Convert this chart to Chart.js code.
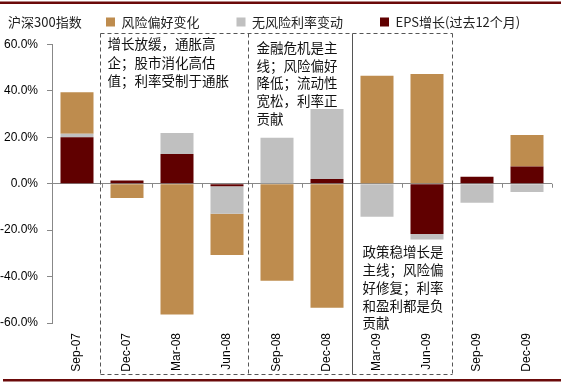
<!DOCTYPE html>
<html><head><meta charset="utf-8">
<script src="https://cdn.jsdelivr.net/npm/chart.js@4.4.0/dist/chart.umd.min.js"></script>
<style>html,body{margin:0;padding:0;background:#fff}</style>
</head><body>
<canvas id="c" width="561" height="383"></canvas>
<script>
const categories = ['Sep-07','Dec-07','Mar-08','Jun-08','Sep-08','Dec-08','Mar-09','Jun-09','Sep-09','Dec-09'];
const epsGrowth      = [20.0, 1.4, 12.8, -1.1, 0, 2.0, 0, -21.7, 3.0, 7.4];
const riskFreeChange = [1.5, 0, 9.1, -11.8, 19.8, 30.2, -14.2, -2.3, -8.2, -3.6];
const riskPrefChange = [17.9, -6.1, -56.3, -17.8, -41.8, -53.4, 46.5, 47.3, 0, 13.6];
const yTicks = [-60, -40, -20, 0, 20, 40, 60];
const seriesNames = ['EPS增长(过去12个月)', '无风险利率变动', '风险偏好变化'];
const indexName = '沪深300指数';
const noteTexts = [
  ['增长放缓，通胀高', '企；股市消化高估', '值；利率受制于通胀'],
  ['金融危机是主', '线；风险偏好', '降低；流动性', '宽松，利率正', '贡献'],
  ['政策稳增长是', '主线；风险偏', '好修复；利率', '和盈利都是负', '贡献']
];

const CJK = '"Noto Sans CJK SC", "Liberation Sans", sans-serif';

const decor = {
  id: 'decor',
  afterLayout(chart) {
    const lg = chart.legend;
    lg.left = 106 - 37;
    lg.right = 760;
    lg.top = -21.5;
  },
  afterDraw(chart) {
    const ctx = chart.ctx;
    const xs = chart.scales.x, ys = chart.scales.y;
    const step = xs.getPixelForValue(1) - xs.getPixelForValue(0);
    const b = i => xs.getPixelForValue(i) - step / 2;
    const y0 = ys.getPixelForValue(0);
    ctx.save();
    // maroon rules
    ctx.fillStyle = '#6b0a0a';
    ctx.fillRect(0, 1.5, 561, 2.5);
    ctx.fillRect(3, 379, 558, 2.5);
    // index label
    ctx.fillStyle = '#222';
    ctx.font = '13px ' + CJK;
    ctx.textBaseline = 'middle';
    ctx.textAlign = 'left';
    ctx.fillText(indexName, 8, 22);
    // tick marks under zero line
    ctx.strokeStyle = '#888';
    ctx.lineWidth = 1;
    ctx.beginPath();
    for (let i = 1; i <= categories.length; i++) {
      const x = Math.round(b(i)) + 0.5;
      ctx.moveTo(x, y0);
      ctx.lineTo(x, y0 + 4);
    }
    ctx.stroke();
    // dashed boxes
    const top = 33.5, bot = 374.5;
    const x1 = Math.round(b(1)) - 1.5, x2 = Math.round(b(4)) - 3.5, x3 = Math.round(b(6)) + 0.5, x4 = Math.round(b(8)) + 0.5;
    ctx.strokeStyle = '#555';
    ctx.setLineDash([4, 3]);
    ctx.beginPath();
    ctx.moveTo(x1, top); ctx.lineTo(x4, top);
    ctx.moveTo(x1, bot); ctx.lineTo(x4, bot);
    ctx.moveTo(x1, top); ctx.lineTo(x1, bot);
    ctx.moveTo(x2, top); ctx.lineTo(x2, bot);
    ctx.moveTo(x4, top); ctx.lineTo(x4, bot);
    ctx.stroke();
    ctx.setLineDash([]);
    ctx.beginPath();
    ctx.moveTo(x3, top); ctx.lineTo(x3, bot);
    ctx.stroke();
    // notes
    ctx.fillStyle = '#111';
    ctx.font = '13.5px ' + CJK;
    const starts = [[x1 + 7, 44, 18.5], [x2 + 8, 48, 17.6], [x3 + 10, 252, 17.8]];
    noteTexts.forEach((lines, k) => {
      const [tx, ty, lh] = starts[k];
      lines.forEach((t, j) => ctx.fillText(t, tx, ty + j * lh));
    });
    ctx.restore();
  }
};

new Chart(document.getElementById('c'), {
  type: 'bar',
  data: {
    labels: categories,
    datasets: [
      { label: seriesNames[0], data: epsGrowth, backgroundColor: '#600000' },
      { label: seriesNames[1], data: riskFreeChange, backgroundColor: '#C0C0C0' },
      { label: seriesNames[2], data: riskPrefChange, backgroundColor: '#BE8C4E' }
    ]
  },
  options: {
    responsive: false,
    animation: false,
    devicePixelRatio: 1,
    layout: { padding: { left: 0, right: 9, top: 14.5, bottom: 0 } },
    datasets: { bar: { categoryPercentage: 1.0, barPercentage: 0.66, borderWidth: 0 } },
    plugins: {
      tooltip: { enabled: false },
      legend: {
        position: 'top',
        align: 'start',
        reverse: true,
        maxHeight: 30,
        labels: {
          boxWidth: 9, boxHeight: 9, padding: 37,
          color: '#222',
          font: { size: 13, family: CJK }
        }
      }
    },
    scales: {
      x: {
        stacked: true,
        grid: { display: false, drawTicks: false },
        border: { display: false },
        ticks: {
          maxRotation: 90, minRotation: 90, padding: 10,
          color: '#000', font: { size: 12, family: '"Liberation Sans", Arial, sans-serif' }
        },
        afterFit: s => { s.height = 60; }
      },
      y: {
        stacked: true,
        min: -60, max: 60,
        afterBuildTicks: s => { s.ticks = yTicks.map(v => ({ value: v })); },
        grid: {
          color: c => (c.tick && c.tick.value === 0) ? '#888' : 'rgba(0,0,0,0)',
          tickColor: '#888', tickLength: 5, lineWidth: 1
        },
        border: { display: true, color: '#888', width: 1 },
        ticks: {
          padding: 9, color: '#000',
          font: { size: 12, family: '"Liberation Sans", Arial, sans-serif' },
          callback: v => v.toFixed(1) + '%'
        },
        afterFit: s => { s.width = 52; }
      }
    }
  },
  plugins: [decor]
});
</script>
</body></html>
